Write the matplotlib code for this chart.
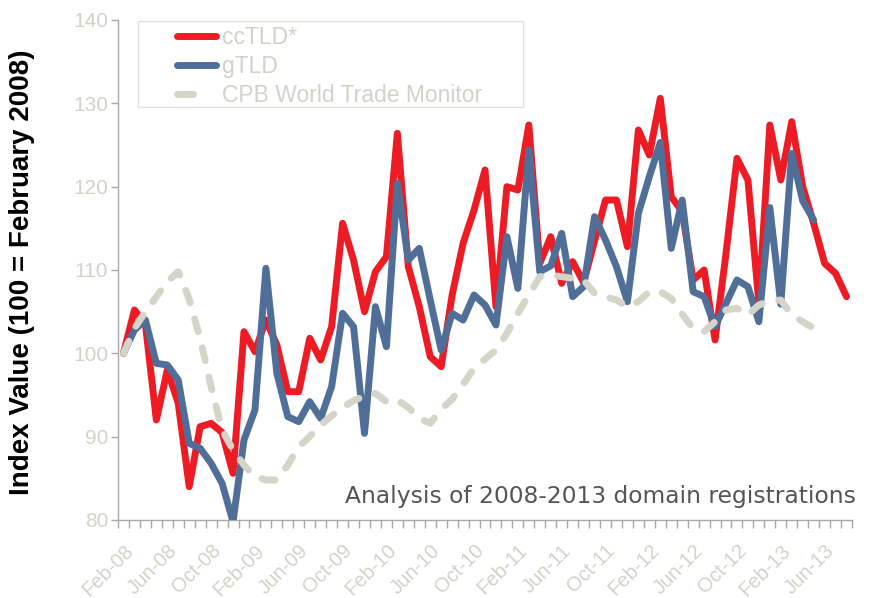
import numpy as np
import matplotlib
matplotlib.use('Agg')
import matplotlib.pyplot as plt
from matplotlib.lines import Line2D
from matplotlib.patches import Rectangle

# ─── Data (monthly, Feb-08 .. Aug-13) ──────────────────────────────
cctld = [100, 105.2, 103.5, 92, 98, 94, 84, 91.2, 91.6, 90.5,
         85.6, 102.6, 100.2, 104, 101, 95.4, 95.4, 101.8, 99.2, 103.2,
         115.6, 111.2, 105, 109.8, 111.6, 126.4, 110.4, 105.6, 99.6, 98.4,
         107, 113.2, 117.2, 122, 105.6, 120, 119.6, 127.4, 110.8, 114,
         108.4, 111, 108.5, 113.5, 118.4, 118.4, 112.8, 126.8, 123.8, 130.6,
         118.8, 117, 108.8, 110, 101.6, 112, 123.4, 120.8, 106, 127.4,
         120.8, 127.8, 120, 115.6, 110.8, 109.6, 106.8]

gtld = [100, 102.8, 104, 98.8, 98.6, 96.8, 89.2, 88.6, 86.8, 84.4,
        79.8, 89.6, 93.2, 110.2, 97.6, 92.4, 91.8, 94.2, 92.2, 96,
        104.8, 103.2, 90.4, 105.6, 100.8, 120.4, 111.2, 112.6, 106.4, 100.4,
        104.8, 104, 107, 105.8, 103.4, 114, 107.8, 124.4, 109.8, 110.5,
        114.4, 106.8, 108, 116.4, 113.6, 110.4, 106.2, 116.8, 121.2, 125.3,
        112.6, 118.4, 107.4, 106.8, 103.2, 106, 108.8, 108, 103.8, 117.5,
        105.9, 124, 118.3, 116]

cpb = [100, 103, 105, 106.8, 108.6, 109.8, 106.5, 101.8, 96, 90.8,
       88.4, 86.6, 85.2, 84.8, 84.8, 86.6, 88.8, 90, 91.4, 92.5,
       93.5, 94.3, 94.9, 95.2, 94.2, 94.4, 93.5, 92.2, 91.6, 93.3,
       94.5, 96.3, 98.2, 99.3, 100.4, 102.4, 104.8, 107, 109.2, 109.4,
       109.2, 109, 108.8, 107.2, 106.8, 106.4, 105.6, 106.2, 107.4, 107.4,
       106.6, 104.7, 103, 102.6, 103.8, 105.2, 105.4, 104.6, 105.8, 106.3,
       106.4, 104.6, 103.8, 103]

tick_labels = ['Feb-08', 'Jun-08', 'Oct-08', 'Feb-09', 'Jun-09', 'Oct-09',
               'Feb-10', 'Jun-10', 'Oct-10', 'Feb-11', 'Jun-11', 'Oct-11',
               'Feb-12', 'Jun-12', 'Oct-12', 'Feb-13', 'Jun-13']
n_months = len(cctld)

RED = '#ED1C24'
BLUE = '#4F6E98'
GREY = '#D4D4C8'
AXIS = '#A8A8A8'
LABEL = '#D2D2C6'

# ─── Figure / axes ─────────────────────────────────────────────────
fig = plt.figure(figsize=(8.85, 5.98), dpi=100)
ax = fig.add_axes([118 / 885, 78 / 598, 734 / 885, 500 / 598])

x_red = np.arange(len(cctld))
x_blue = np.arange(len(gtld))
x_grey = np.arange(len(cpb))

ax.plot(x_red, cctld, color=RED, lw=5, solid_joinstyle='round',
        solid_capstyle='round', zorder=2)
ax.plot(x_blue, gtld, color=BLUE, lw=5, solid_joinstyle='round',
        solid_capstyle='round', zorder=3)
ax.plot(x_grey, cpb, color=GREY, lw=5, dashes=(1.9, 2.4),
        dash_capstyle='round', dash_joinstyle='round', zorder=4)

ax.set_xlim(-0.5, n_months - 0.5)
ax.set_ylim(80, 140)

# ─── Axes styling ──────────────────────────────────────────────────
for s in ['top', 'right']:
    ax.spines[s].set_visible(False)
for s in ['left', 'bottom']:
    ax.spines[s].set_color(AXIS)
    ax.spines[s].set_linewidth(1)

ax.set_yticks(np.arange(80, 141, 10))
ax.tick_params(axis='y', length=5, width=1, color=AXIS, labelcolor=LABEL,
               labelsize=15, pad=2)
for t in ax.get_yticklabels():
    t.set_family('Liberation Sans')

ax.set_xticks(np.arange(0, n_months, 4))
ax.set_xticklabels(tick_labels, rotation=45, ha='right',
                   rotation_mode='anchor', family='Liberation Sans')
ax.set_xticks(np.arange(-0.5, n_months, 1), minor=True)
ax.tick_params(axis='x', which='major', length=0, labelcolor=LABEL,
               labelsize=14.5, pad=15)
ax.tick_params(axis='x', which='minor', length=6, width=1, color=AXIS,
               direction='out')

fig.text(22 / 885, 1 - 272 / 598, 'Index Value (100 = February 2008)',
         rotation=90, ha='center', va='center', fontsize=20,
         fontweight='bold', family='Liberation Sans', color='black')

ax.text(1.005, 0.034, 'Analysis of 2008-2013 domain registrations',
        transform=ax.transAxes, ha='right', va='baseline', fontsize=16.8,
        color='#555555', family='DejaVu Sans')

# ─── Legend ────────────────────────────────────────────────────────
ax.add_patch(Rectangle(((138 - 118) / 734, (520 - 107) / 500),
                       385 / 734, 86 / 500, transform=ax.transAxes,
                       facecolor='white', edgecolor='#E2E2DA', lw=1,
                       zorder=5))
handles = [Line2D([], [], color=RED, lw=5, solid_capstyle='round'),
           Line2D([], [], color=BLUE, lw=5, solid_capstyle='round'),
           Line2D([], [], color=GREY, lw=5, dashes=(2.3, 10),
                  dash_capstyle='round')]
leg = ax.legend(handles, ['ccTLD*', 'gTLD', 'CPB World Trade Monitor'],
                loc='upper left',
                bbox_to_anchor=((177 - 118) / 734, (520 - 26) / 500),
                frameon=False, prop={'family': 'Liberation Sans', 'size': 16.5},
                handlelength=1.7, handletextpad=0.28, labelspacing=0.27,
                borderpad=0, borderaxespad=0)
leg.set_zorder(6)
for t in leg.get_texts():
    t.set_color(LABEL)

fig.savefig('out.png', dpi=100, facecolor='white')
